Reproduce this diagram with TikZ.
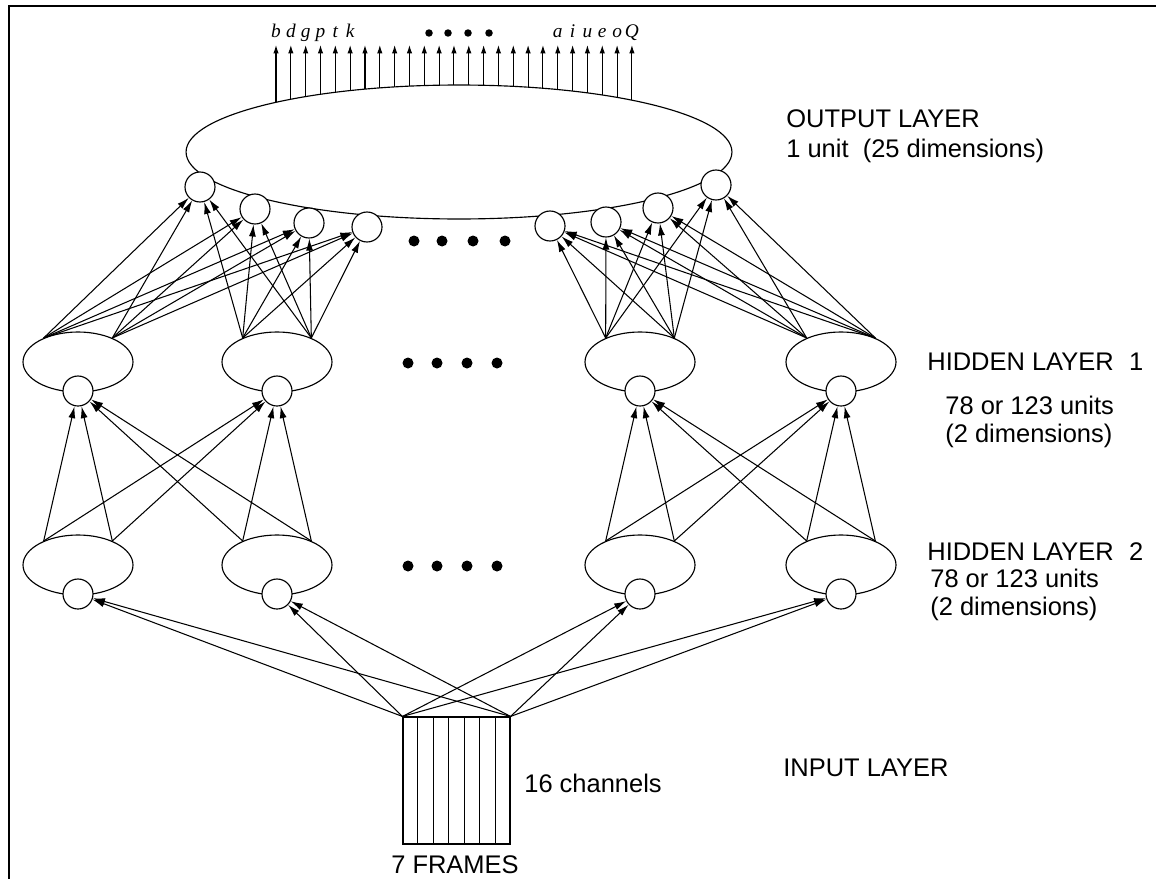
\documentclass[tikz,border=0pt]{standalone}
\usepackage{fontspec}
\setmainfont{Liberation Sans}
\newfontfamily\phonefont{Liberation Serif}
\usetikzlibrary{positioning,arrows.meta,shapes.geometric,calc}

\begin{document}
\begin{tikzpicture}[
  x=0.02cm, y=-0.02cm,
  every node/.style={font=\fontsize{14.5}{15.5}\selectfont},
  bigunit/.style={draw, ellipse, minimum width=2.2cm, minimum height=1.2cm, inner sep=0pt, line width=0.65pt},
  smallunit/.style={draw, circle, fill=white, minimum size=0.6cm, inner sep=0pt, line width=0.65pt},
  dot/.style={circle, fill=black, minimum size=0.22cm, inner sep=0pt},
  arrow/.style={-{Latex[length=2.4mm,width=1.4mm]}, line width=0.6pt},
  outarrow/.style={-{Latex[length=1.7mm,width=1.1mm]}, line width=0.6pt},
  layertext/.style={anchor=west, align=left, inner sep=0pt},
  phone/.style={font=\phonefont\fontsize{11}{12}\selectfont\itshape, anchor=base}
]
\useasboundingbox (0,0) rectangle (1156,879);
\draw[line width=0.8pt] (1156,6) -- (9,6) -- (9,879);

% output layer
\node[draw, ellipse, minimum width=10.92cm, minimum height=2.68cm, inner sep=0pt, line width=0.65pt] (outlayer) at (459,152) {};
\foreach \i in {0,...,24} {
  \pgfmathsetmacro{\px}{276+\i*14.83}
  \pgfmathsetmacro{\py}{152-67*sqrt(1-((\px-459)/273)*((\px-459)/273))}
  \coordinate (ob\i) at (\px,\py);
  \coordinate (ot\i) at (\px,45);
  \draw[outarrow] (ob\i) -- (ot\i);
}
\foreach \i/\c in {0/b,1/d,2/g,3/p,4/t,5/k,19/a,20/i,21/u,22/e,23/o,24/Q}
  \node[phone] (ph\i) at ($(ot\i)+(0,-8)$) {\c};
\foreach \k/\x in {1/429,2/448,3/468,4/489}
  \node[dot, minimum size=0.15cm] (topdot\k) at (\x,33) {};
\foreach \n/\x/\y in {1/200/187,2/255/209,3/309/223,4/367/227,5/550/226,6/606/222,7/658/208,8/716/185}
  \node[smallunit] (out\n) at (\x,\y) {};

% hidden layers 1 and 2
\foreach \n/\x in {1/78,2/277,3/640,4/841} {
  \node[bigunit] (hida\n) at (\x,362) {};
  \node[smallunit] (hidac\n) at (\x,391) {};
  \node[bigunit] (hidb\n) at (\x,565) {};
  \node[smallunit] (hidbc\n) at (\x,594) {};
}

% dots
\foreach \k/\x in {1/414,2/442,3/473,4/505}
  \node[dot] (outdot\k) at (\x,241) {};
\foreach \k/\x in {1/408,2/437,3/467,4/497} {
  \node[dot] (hidadot\k) at (\x,363) {};
  \node[dot] (hidbdot\k) at (\x,566) {};
}

% input layer
\node[draw, minimum width=2.14cm, minimum height=2.54cm, inner sep=0pt, line width=0.65pt] (input) at (456.5,780.5) {};
\foreach \k in {1,...,6}
  \draw[line width=0.6pt] ($(input.north west)!\k/7!(input.north east)$) -- ($(input.south west)!\k/7!(input.south east)$);

% connections
\foreach \n in {1,...,4} {
  \draw[arrow] (input.north west) -- (hidbc\n);
  \draw[arrow] (input.north east) -- (hidbc\n);
}
\foreach \s/\t in {1/1,1/2,2/1,2/2,3/3,3/4,4/3,4/4} {
  \draw[arrow] (hidb\s.145) -- (hidac\t);
  \draw[arrow] (hidb\s.35) -- (hidac\t);
}
\foreach \s in {1,2}
  \foreach \t in {1,...,4} {
    \draw[arrow] (hida\s.145) -- (out\t);
    \draw[arrow] (hida\s.35) -- (out\t);
  }
\foreach \s in {3,4}
  \foreach \t in {5,...,8} {
    \draw[arrow] (hida\s.145) -- (out\t);
    \draw[arrow] (hida\s.35) -- (out\t);
  }

% labels
\node[layertext] (outlbl) at (786,119) {OUTPUT LAYER};
\node[layertext] (outdim) at (786,151) {1 unit\ \ (25 dimensions)};
\node[layertext] (hidalbl) at (927,362) {HIDDEN LAYER\hspace{0.6em}1};
\node[layertext] (hidadim) at (945,422) {78 or 123 units\\(2 dimensions)};
\node[layertext] (hidblbl) at (927,552) {HIDDEN LAYER\hspace{0.6em}2};
\node[layertext] (hidbdim) at (930,595) {78 or 123 units\\(2 dimensions)};
\node[layertext] (inlbl) at (783,768) {INPUT LAYER};
\node[layertext] (chlbl) at (524,783) {16 channels};
\node[inner sep=0pt] (frlbl) at (455,865) {7 FRAMES};
\end{tikzpicture}
\end{document}
